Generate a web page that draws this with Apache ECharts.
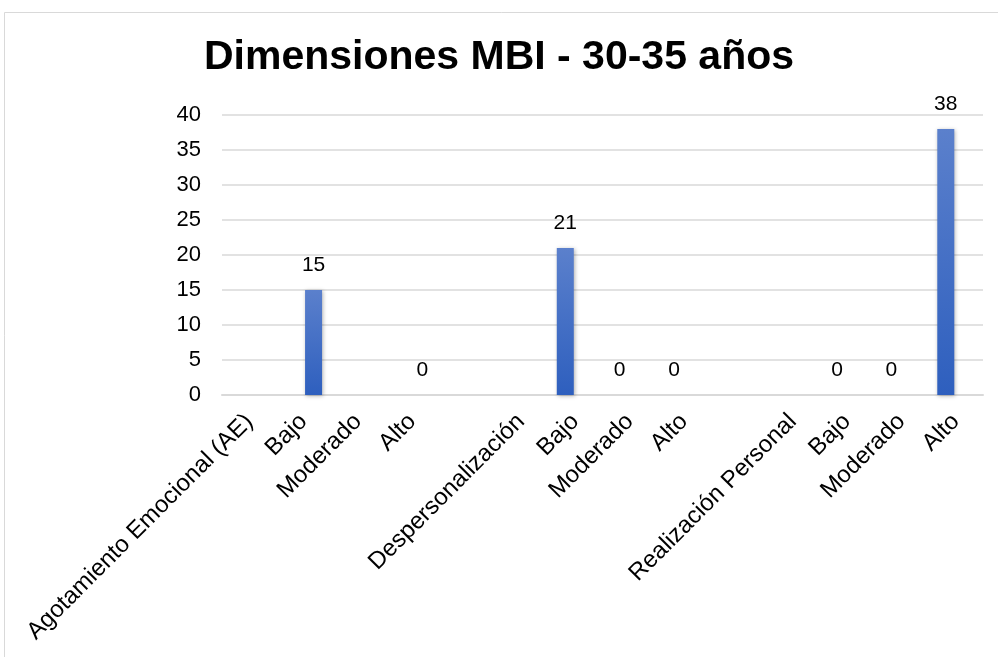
<!DOCTYPE html>
<html>
<head>
<meta charset="utf-8">
<script src="https://cdn.jsdelivr.net/npm/echarts@6/dist/echarts.min.js"></script>
<style>
  html, body { margin: 0; padding: 0; background: #fff; }
  #chart { width: 998px; height: 657px; }
</style>
</head>
<body>
<div id="chart"></div>
<script>
// Category labels along the x axis; empty entries separate the three dimensions
const categories = [
  'Agotamiento Emocional (AE)', 'Bajo', 'Moderado', 'Alto', '',
  'Despersonalización', 'Bajo', 'Moderado', 'Alto', '',
  'Realización Personal', 'Bajo', 'Moderado', 'Alto'
];
// Counts for Despersonalización and Realización Personal (first column)
const valuesDpRp = [null, null, null, null, null, null, 21, 0, 0, null, null, 0, 0, 38];
// Counts for Agotamiento Emocional (second column)
const valuesAe = [null, 15, null, 0, null, null, null, null, null, null, null, null, null, null];
// Value axis ticks
const yTicks = [0, 5, 10, 15, 20, 25, 30, 35, 40];

const chart = echarts.init(document.getElementById('chart'), null, { renderer: 'canvas' });
const font = '"Liberation Sans", Arial, sans-serif';

const barStyle = {
  color: new echarts.graphic.LinearGradient(0, 0, 0, 1, [
    { offset: 0, color: '#5b80cc' },
    { offset: 1, color: '#2e5fbe' }
  ]),
  shadowBlur: 4,
  shadowColor: 'rgba(0,0,0,0.3)',
  shadowOffsetX: 1,
  shadowOffsetY: 1
};
const valueLabel = {
  show: true,
  position: 'top',
  distance: 14,
  fontFamily: font,
  fontSize: 21,
  color: '#000'
};

chart.setOption({
  animation: false,
  backgroundColor: '#ffffff',
  title: {
    text: 'Dimensiones MBI - 30-35 años',
    left: 'center',
    top: 32,
    textStyle: { fontFamily: font, fontSize: 41, fontWeight: 'bold', color: '#000' }
  },
  graphic: [{
    type: 'rect',
    shape: { x: 4.5, y: 12.5, width: 1000, height: 700 },
    style: { fill: 'none', stroke: '#d9d9d9', lineWidth: 1 },
    silent: true
  }],
  grid: { left: 222, right: 15, top: 115, bottom: 262, containLabel: false },
  xAxis: {
    type: 'category',
    data: categories,
    axisLine: { lineStyle: { color: '#d9d9d9', width: 2 } },
    axisTick: { show: false },
    axisLabel: {
      interval: 0,
      rotate: 45,
      margin: 23,
      fontFamily: font,
      fontSize: 24,
      color: '#000'
    }
  },
  yAxis: {
    type: 'value',
    min: yTicks[0],
    max: yTicks[yTicks.length - 1],
    interval: yTicks[1] - yTicks[0],
    axisLine: { show: false },
    axisTick: { show: false },
    splitLine: { lineStyle: { color: '#d9d9d9', width: 1.5 } },
    axisLabel: { margin: 21, fontFamily: font, fontSize: 22, color: '#000' }
  },
  series: [
    {
      type: 'bar',
      data: valuesDpRp,
      barWidth: 17,
      barGap: '18%',
      itemStyle: barStyle,
      label: valueLabel
    },
    {
      type: 'bar',
      data: valuesAe,
      barWidth: 17,
      barGap: '18%',
      itemStyle: barStyle,
      label: valueLabel
    }
  ]
});
</script>
</body>
</html>
